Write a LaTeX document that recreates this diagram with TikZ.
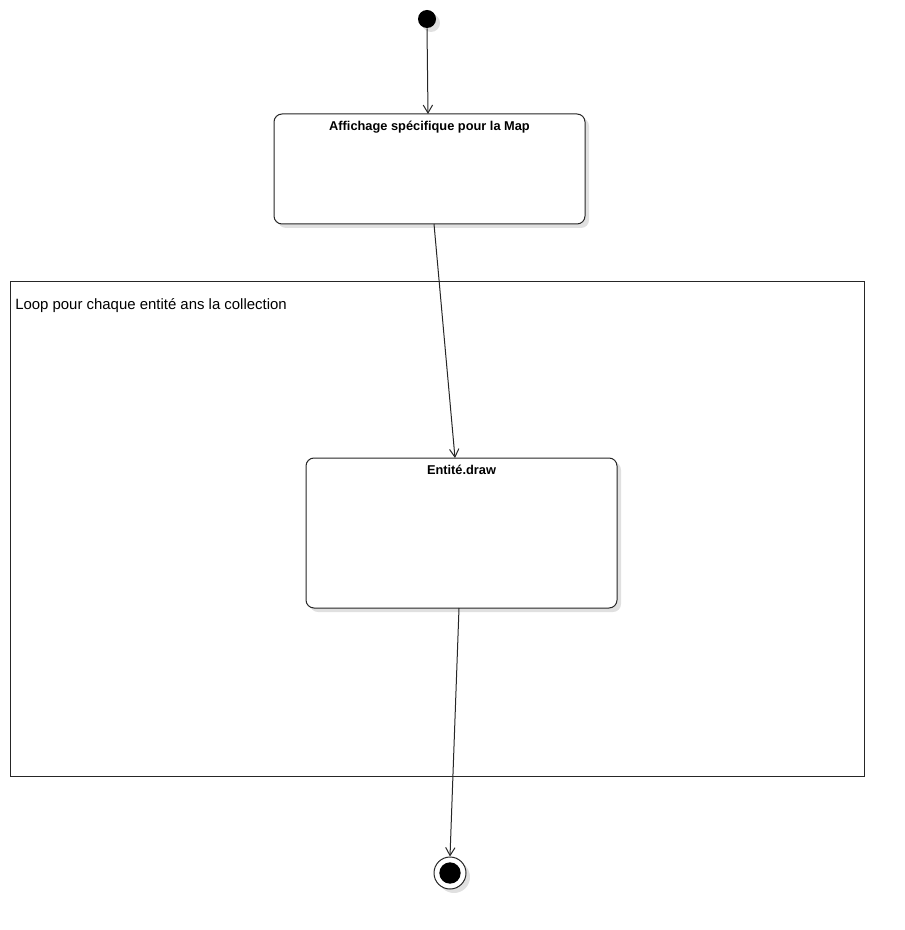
\documentclass[tikz,border=0pt]{standalone}
\usepackage{fontspec}
\setmainfont{Liberation Sans}
\usetikzlibrary{arrows.meta,shadows}
\begin{document}
\begin{tikzpicture}[x=0.75pt,y=-0.75pt,
  softshadow/.style={drop shadow={shadow xshift=3pt,shadow yshift=-3pt,fill=black,opacity=0.12}},
  state/.style={draw=black!85,line width=0.75pt,rounded corners=6pt,fill=white,softshadow},
  statetitle/.style={font=\bfseries\fontsize{9.6}{11}\selectfont,anchor=north,inner sep=0pt},
  flow/.style={draw=black!85,line width=0.75pt,-{Straight Barb[length=6pt,width=7pt]}},
  frame/.style={draw=black!85,line width=0.75pt}
]
\useasboundingbox (0,0) rectangle (905,930);

% loop frame
\draw[frame] (10,282) rectangle (864,776);
\node[anchor=north west,inner sep=0pt,font=\fontsize{11.2}{13}\selectfont] (looplabel) at (15,298) {Loop pour chaque entité ans la collection};

% initial state
\node[circle,fill=black,minimum size=13.5pt,inner sep=0pt,softshadow] (start) at (427,19) {};

% action states
\node[state,minimum width=233.25pt,minimum height=82.5pt] (map) at (429.5,169) {};
\node[statetitle] (maptitle) at (429.5,121) {Affichage spécifique pour la Map};

\node[state,minimum width=233.25pt,minimum height=112.5pt] (draw) at (461.5,533) {};
\node[statetitle] (drawtitle) at (461.5,465) {Entité.draw};

% final state
\node[circle,draw=black!85,line width=0.75pt,fill=white,minimum size=24pt,inner sep=0pt,softshadow] (end) at (450,873) {};
\node[circle,fill=black,minimum size=16pt,inner sep=0pt] (endcore) at (end.center) {};

% transitions
\coordinate (a2) at (428,114);
\draw[flow] (start.south) -- (a2);
\coordinate (b1) at (434,224);
\coordinate (b2) at (455,458);
\draw[flow] (b1) -- (b2);
\coordinate (c1) at (459,608);
\draw[flow] (c1) -- (end.north);
\end{tikzpicture}
\end{document}
